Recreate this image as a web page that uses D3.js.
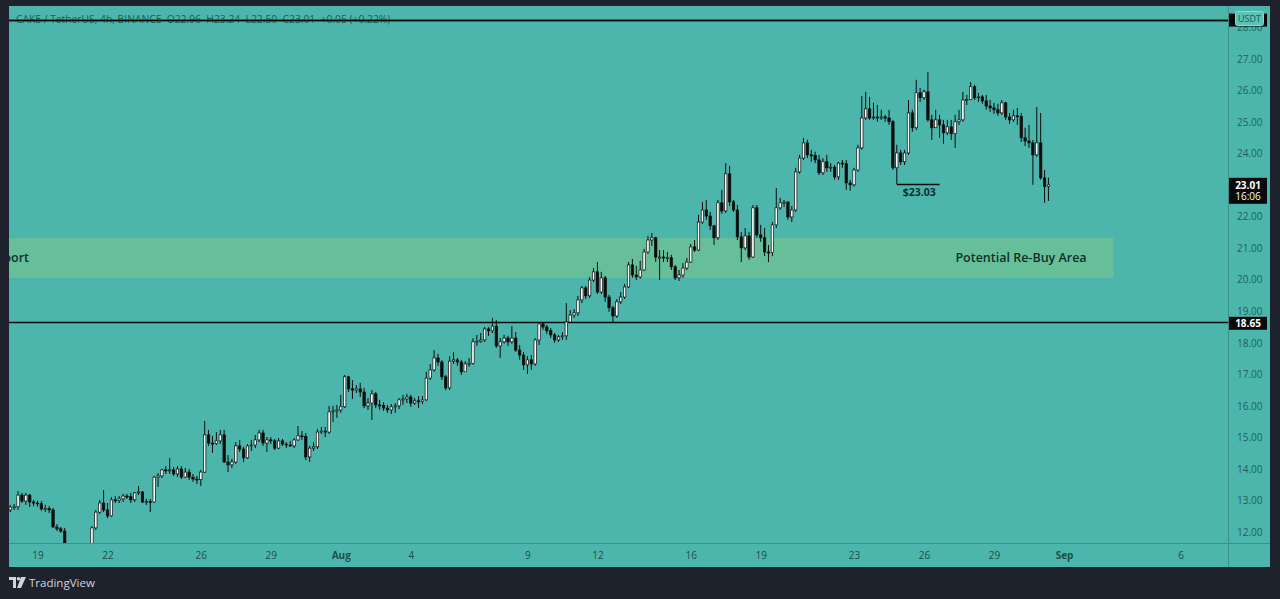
<!DOCTYPE html>
<html><head><meta charset="utf-8">
<script src="https://cdn.jsdelivr.net/npm/d3@7"></script>
<style>
body{margin:0;background:#1e222d;overflow:hidden}
text{font-family:"Open Sans","Noto Sans",sans-serif}
</style>
</head><body>
<svg id="chart" width="1280" height="599"></svg>
<script>
// ---------- data ----------
const firstCandleTime = Date.UTC(2021, 6, 17, 20); // 4h candles from Jul 17 20:00
const candleHours = 4;
const firstOpen = 12.70;
const closes = [
12.79,12.80,13.17,12.98,13.17,12.95,12.92,12.90,12.73,12.75,12.70,12.16,12.10,12.03,11.49,11.27,11.11,10.98,11.11,11.21,
11.37,12.13,12.63,12.92,12.70,12.51,13.02,13.00,13.05,13.14,13.12,13.02,13.24,13.27,12.95,12.97,12.95,13.74,13.78,13.97,
13.95,13.97,13.84,14.00,13.74,13.90,13.74,13.68,13.66,13.90,15.08,14.82,14.80,14.89,15.08,14.22,14.13,14.22,14.73,14.63,
14.35,14.73,14.76,14.92,15.14,14.82,14.92,14.89,14.66,14.89,14.79,14.76,14.73,14.92,15.05,15.03,14.38,14.66,14.70,15.17,
15.20,15.17,15.81,15.84,15.87,15.97,16.92,16.54,16.50,16.54,16.44,16.00,16.09,16.38,16.03,16.01,15.93,15.87,15.97,16.00,
16.19,16.22,16.28,16.09,16.16,16.14,16.19,16.88,17.14,17.52,17.39,16.92,16.57,17.42,17.46,17.39,17.08,17.33,17.35,18.03,
18.05,18.09,18.44,18.38,18.53,17.90,18.03,18.15,18.03,18.15,17.77,17.61,17.30,17.46,17.33,18.09,18.60,18.50,18.38,18.25,
18.09,18.19,18.22,18.66,18.88,18.95,19.36,19.74,19.49,19.99,20.25,19.61,20.06,19.45,19.11,18.85,19.30,19.45,19.77,20.47,
20.15,20.09,20.31,20.88,21.26,21.33,20.72,20.72,20.69,20.70,20.41,20.06,20.15,20.37,20.56,21.04,20.94,21.83,22.21,22.02,
21.71,21.33,22.44,22.18,23.36,22.47,22.21,21.36,21.01,21.39,20.72,22.28,21.42,21.33,20.88,20.86,21.74,22.28,22.44,22.46,
21.99,22.21,23.42,23.86,24.34,23.96,23.94,23.80,23.39,23.74,23.55,23.57,23.26,23.70,23.68,23.07,23.01,23.48,24.18,25.13,
25.42,25.13,25.16,25.14,25.16,25.13,25.01,23.55,24.02,23.74,24.02,25.29,24.82,25.93,25.77,25.96,25.07,24.82,25.07,24.91,
24.66,24.85,24.63,25.01,25.07,25.70,25.72,26.12,25.77,25.80,25.67,25.51,25.45,25.39,25.29,25.61,25.16,25.07,25.20,25.18,
24.50,24.40,24.34,23.96,24.34,23.23,22.96,23.01];
const highs = [
12.86,12.89,13.30,13.24,13.24,13.21,13.02,13.00,12.98,12.86,12.82,12.76,12.25,12.16,12.13,11.59,11.43,11.33,11.37,11.49,
11.56,12.19,12.70,13.02,13.33,12.92,13.11,13.14,13.14,13.21,13.21,13.24,13.27,13.46,13.30,13.05,13.05,13.78,13.87,14.00,
14.09,14.35,14.06,14.09,14.09,14.03,14.00,13.84,13.78,13.97,15.52,15.24,15.05,15.17,15.24,15.24,14.44,14.32,14.85,14.92,
14.70,14.79,14.92,15.08,15.24,15.24,15.01,15.01,14.95,14.98,14.95,14.85,14.89,14.98,15.36,15.20,15.14,14.73,14.85,15.27,
15.33,15.33,16.00,16.00,16.03,16.35,16.98,16.95,16.82,16.66,16.73,16.57,16.25,16.50,16.44,16.19,16.12,16.03,16.06,16.09,
16.25,16.35,16.38,16.35,16.25,16.31,16.31,17.08,17.33,17.77,17.65,17.46,16.98,17.58,17.71,17.52,17.46,17.42,17.52,18.15,
18.25,18.31,18.50,18.50,18.79,18.72,18.15,18.25,18.22,18.53,18.34,17.93,17.71,17.58,17.61,18.15,18.66,18.66,18.57,18.47,
18.31,18.25,18.34,19.26,19.04,19.07,19.49,19.80,19.80,20.09,20.37,20.56,20.25,20.12,19.52,19.17,19.39,19.61,19.87,20.56,
20.66,20.44,20.60,20.98,21.39,21.48,21.36,20.94,20.94,20.88,20.79,20.47,20.31,20.53,20.69,21.14,21.26,22.06,22.47,22.53,
22.15,21.74,22.53,22.85,23.70,23.61,22.53,22.37,21.52,21.64,21.52,22.37,22.37,21.74,21.64,21.10,21.83,22.91,22.60,22.53,
22.50,22.34,23.55,23.96,24.50,24.44,24.12,24.06,23.96,23.86,23.96,23.70,23.64,23.74,23.80,23.80,23.17,23.55,24.28,25.83,
25.96,25.80,25.61,25.54,25.39,25.23,25.39,25.07,24.28,24.12,24.12,25.70,25.39,26.34,26.08,26.03,26.59,25.23,25.39,25.23,
25.07,25.07,25.07,25.23,25.39,25.96,25.86,26.27,26.18,25.93,25.86,25.86,25.70,25.61,25.58,25.70,25.64,25.29,25.39,25.45,
25.29,24.82,24.91,24.43,25.48,25.29,23.48,23.24];
const lows = [
12.63,12.70,12.70,12.92,12.86,12.79,12.82,12.80,12.67,12.63,12.60,12.13,12.03,11.97,11.37,11.11,10.92,10.79,10.92,11.05,
11.18,11.27,12.06,12.57,12.63,12.44,12.48,12.92,12.92,12.95,13.05,12.92,12.95,13.17,12.92,12.86,12.63,12.92,13.43,13.71,
13.84,13.84,13.78,13.74,13.68,13.71,13.65,13.59,13.52,13.46,13.87,14.73,14.51,14.76,14.79,14.19,13.90,14.03,14.16,14.54,
14.22,14.32,14.57,14.66,14.85,14.73,14.54,14.79,14.60,14.63,14.73,14.66,14.70,14.66,14.89,14.92,14.28,14.22,14.57,14.63,
15.11,15.01,15.11,15.49,15.62,15.78,15.93,16.44,16.22,16.41,16.28,15.93,15.87,15.55,15.93,15.87,15.84,15.78,15.74,15.78,
15.90,16.03,16.09,15.97,16.03,15.93,16.06,16.16,16.82,17.08,17.27,16.82,16.50,16.50,17.33,17.27,16.98,17.08,17.24,17.30,
17.90,18.00,18.03,18.22,18.31,17.84,17.52,17.97,17.90,17.97,17.71,17.46,17.14,17.01,17.14,17.27,17.93,18.41,18.28,18.15,
18.00,18.03,18.09,18.09,18.66,18.79,18.85,19.26,19.39,19.42,19.93,19.55,19.55,19.30,18.98,18.63,18.79,19.23,19.39,19.74,
20.06,19.99,20.03,20.28,20.82,21.07,20.56,19.99,20.56,20.56,20.31,19.99,19.96,20.06,20.31,20.53,20.88,20.91,21.77,21.90,
21.58,21.10,21.26,22.09,22.12,22.34,22.15,21.26,20.56,20.94,20.63,20.69,21.33,21.20,20.75,20.56,20.75,21.64,22.21,22.31,
21.90,21.83,22.15,23.36,23.80,23.86,23.74,23.70,23.32,23.32,23.42,23.42,23.17,23.17,23.55,22.85,22.82,22.95,23.42,24.12,
25.07,25.07,25.07,25.01,25.07,25.01,24.91,23.48,23.03,23.64,23.64,23.96,24.69,24.75,25.64,25.70,25.01,24.43,24.82,24.50,
24.31,24.59,24.43,24.18,24.91,25.01,25.54,25.70,25.70,25.64,25.58,25.39,25.32,25.26,25.20,25.23,25.07,24.94,25.01,24.91,
24.37,24.24,24.18,23.01,23.90,23.17,22.44,22.50];

const priceTicks = [12,13,14,15,16,17,18,19,20,21,22,23,24,25,26,27,28];
const timeTickDates = ["2021-07-19","2021-07-22","2021-07-26","2021-07-29","2021-08-01","2021-08-04","2021-08-09",
  "2021-08-12","2021-08-16","2021-08-19","2021-08-23","2021-08-26","2021-08-29","2021-09-01","2021-09-06"];
const resistanceLevel = 28.25;
const supportLevel = 18.65;
const zoneTop = 21.32, zoneBottom = 20.06;
const zoneEnd = "2021-09-03T03:00:00Z";
const zoneLabel = "Potential Re-Buy Area";
const zoneLeftLabel = "Support";
const noteCandleIndex = 228, noteEndIndex = 239, notePrice = 23.03;
const noteLabel = "$23.03";
const headerText = "CAKE / TetherUS, 4h, BINANCE  O22.96  H23.24  L22.50  C23.01  +0.05 (+0.22%)";
const lastPriceLabel = "23.01", countdownLabel = "16:06";

// ---------- build ----------
const candles = closes.map((c, i) => ({
  t: new Date(firstCandleTime + i * candleHours * 3600e3),
  o: i === 0 ? firstOpen : closes[i - 1],
  h: highs[i], l: lows[i], c: c
}));

const svg = d3.select("#chart");
const W = 1280, H = 599;
const plot = {l: 9, r: 1228, t: 6, b: 543};
const axisRightEdge = 1270, axisBottomEdge = 567;

const x = d3.scaleUtc()
  .domain([new Date("2021-07-19T00:00:00Z"), new Date("2021-09-01T00:00:00Z")])
  .range([37.5, 1064]);
const y = d3.scaleLinear().domain([12, 27]).range([532, 59]);

const teal = "#4db6ac";
svg.append("rect").attr("width", W).attr("height", H).attr("fill", "#1e222d");
svg.append("rect").attr("x", plot.l).attr("y", plot.t)
  .attr("width", axisRightEdge - plot.l).attr("height", axisBottomEdge - plot.t).attr("fill", teal);

const defs = svg.append("defs");
defs.append("clipPath").attr("id", "pc").append("rect")
  .attr("x", plot.l).attr("y", plot.t).attr("width", plot.r - plot.l).attr("height", plot.b - plot.t);

const g = svg.append("g").attr("clip-path", "url(#pc)");

// zone
g.append("rect")
  .attr("x", plot.l).attr("y", y(zoneTop))
  .attr("width", x(new Date(zoneEnd)) - plot.l)
  .attr("height", y(zoneBottom) - y(zoneTop))
  .attr("fill", "#67bf9a");
g.append("text").attr("x", 1021).attr("y", (y(zoneTop) + y(zoneBottom)) / 2 + 4)
  .attr("text-anchor", "middle").attr("font-size", 12.5).attr("font-weight", 600)
  .attr("fill", "#0f2f29").text(zoneLabel);
g.append("text").attr("x", 29).attr("y", (y(zoneTop) + y(zoneBottom)) / 2 + 4)
  .attr("text-anchor", "end").attr("font-size", 12.5).attr("font-weight", 600)
  .attr("fill", "#0f2f29").text(zoneLeftLabel);

// horizontal levels
[resistanceLevel, supportLevel].forEach(v => {
  g.append("line").attr("x1", plot.l).attr("x2", plot.r)
    .attr("y1", Math.round(y(v)) + 0.5).attr("y2", Math.round(y(v)) + 0.5)
    .attr("stroke", "#0b0b0b").attr("stroke-width", 1.3);
});

// candles
const step = x(new Date(firstCandleTime + candleHours * 3600e3)) - x(new Date(firstCandleTime));
const bw = step * 0.62;
const cg = g.append("g");
cg.selectAll("line.wick").data(candles).join("line")
  .attr("class", "wick")
  .attr("x1", d => x(d.t)).attr("x2", d => x(d.t))
  .attr("y1", d => y(Math.max(d.h, d.o, d.c))).attr("y2", d => y(Math.min(d.l, d.o, d.c)))
  .attr("stroke", "#0d0d0d").attr("stroke-width", 1);
cg.selectAll("rect.body").data(candles).join("rect")
  .attr("class", "body")
  .attr("x", d => x(d.t) - bw / 2)
  .attr("y", d => y(Math.max(d.o, d.c)))
  .attr("width", bw)
  .attr("height", d => Math.max(1, Math.abs(y(d.o) - y(d.c))))
  .attr("fill", d => d.c >= d.o ? "#ffffff" : "#0d0d0d")
  .attr("stroke", "#0d0d0d").attr("stroke-width", 0.7);

// price note
const nc = candles[noteCandleIndex];
const ny = Math.round(y(notePrice)) + 0.5;
g.append("path")
  .attr("d", `M${x(nc.t)},${ny}H${x(candles[noteEndIndex].t)}`)
  .attr("stroke", "#0d0d0d").attr("stroke-width", 1.3).attr("fill", "none");
g.append("text").attr("x", (x(nc.t) + x(candles[noteEndIndex].t)) / 2 + 1).attr("y", ny + 11)
  .attr("text-anchor", "middle").attr("font-size", 10.5).attr("font-weight", 700)
  .attr("fill", "#0f2f29").text(noteLabel);

// header
svg.append("text").attr("x", 16).attr("y", 23).attr("font-size", 10.3)
  .attr("fill", "#1d5d56").attr("xml:space", "preserve").style("white-space", "pre").text(headerText);
svg.append("line").attr("x1", plot.l).attr("x2", plot.r)
  .attr("y1", Math.round(y(resistanceLevel)) + 0.5).attr("y2", Math.round(y(resistanceLevel)) + 0.5)
  .attr("stroke", "#0b0b0b").attr("stroke-width", 1.3);

// separators
svg.append("line").attr("x1", plot.r + 0.5).attr("x2", plot.r + 0.5).attr("y1", plot.t).attr("y2", axisBottomEdge)
  .attr("stroke", "#3a9189");
svg.append("line").attr("x1", plot.l).attr("x2", axisRightEdge).attr("y1", plot.b + 0.5).attr("y2", plot.b + 0.5)
  .attr("stroke", "#3a9189");

// price axis
const yAxis = d3.axisRight(y).tickValues(priceTicks).tickSize(0).tickPadding(9).tickFormat(d3.format(".2f"));
const ya = svg.append("g").attr("transform", `translate(${plot.r},0)`).call(yAxis);
ya.select(".domain").remove();
ya.selectAll("text").attr("font-size", 10).attr("fill", "#1f6159")
  .attr("font-family", '"Open Sans","Noto Sans",sans-serif');

// time axis
const fmtTime = d => (d.getUTCDate() === 1 ? d3.utcFormat("%b")(d) : d3.utcFormat("%-d")(d));
const xAxis = d3.axisBottom(x).tickValues(timeTickDates.map(s => new Date(s + "T00:00:00Z")))
  .tickSize(0).tickPadding(9).tickFormat(fmtTime);
const xa = svg.append("g").attr("transform", `translate(0,${plot.b})`).call(xAxis);
xa.select(".domain").remove();
xa.selectAll("text").attr("font-size", 10).attr("fill", "#1d4e49")
  .attr("font-family", '"Open Sans","Noto Sans",sans-serif')
  .attr("font-weight", d => d.getUTCDate() === 1 ? 700 : 400);

// axis labels (boxes)
function priceBox(v, label) {
  const yy = y(v);
  svg.append("rect").attr("x", 1229).attr("y", yy - 5.5).attr("width", 38).attr("height", 13).attr("fill", "#0a0a0a");
  svg.append("text").attr("x", 1248).attr("y", yy + 4.5).attr("text-anchor", "middle")
    .attr("font-size", 10).attr("font-weight", 700).attr("fill", "#ffffff").text(label);
}
priceBox(supportLevel, d3.format(".2f")(supportLevel));
// resistance label box with currency tag
svg.append("rect").attr("x", 1229).attr("y", y(resistanceLevel) - 6).attr("width", 38).attr("height", 13).attr("fill", "#0a0a0a");
svg.append("rect").attr("x", 1235.5).attr("y", 11.5).attr("width", 28).attr("height", 14).attr("rx", 2)
  .attr("fill", "#5cc2b7").attr("stroke", "#8fd9d0");
svg.append("text").attr("x", 1249.5).attr("y", 22).attr("text-anchor", "middle")
  .attr("font-size", 9).attr("fill", "#1d5d56").text("USDT");
// last price
const lp = y(closes[closes.length - 1]);
svg.append("rect").attr("x", 1229).attr("y", lp - 7).attr("width", 38).attr("height", 26).attr("fill", "#0a0a0a");
svg.append("text").attr("x", 1248).attr("y", lp + 4).attr("text-anchor", "middle")
  .attr("font-size", 10).attr("font-weight", 700).attr("fill", "#ffffff").text(lastPriceLabel);
svg.append("text").attr("x", 1248).attr("y", lp + 15.5).attr("text-anchor", "middle")
  .attr("font-size", 10).attr("fill", "#ffffff").text(countdownLabel);

// TradingView footer
const logo = svg.append("g").attr("transform", "translate(9,577)").attr("fill", "#d1d4dc");
logo.append("path").attr("d", "M0,0H7V11H4V3H0Z");
logo.append("circle").attr("cx", 9.5).attr("cy", 1.8).attr("r", 1.8);
logo.append("path").attr("d", "M12,0H17L12,11H8Z");
svg.append("text").attr("x", 29).attr("y", 587).attr("font-size", 11.5)
  .attr("fill", "#d1d4dc").text("TradingView");
</script>
</body></html>
